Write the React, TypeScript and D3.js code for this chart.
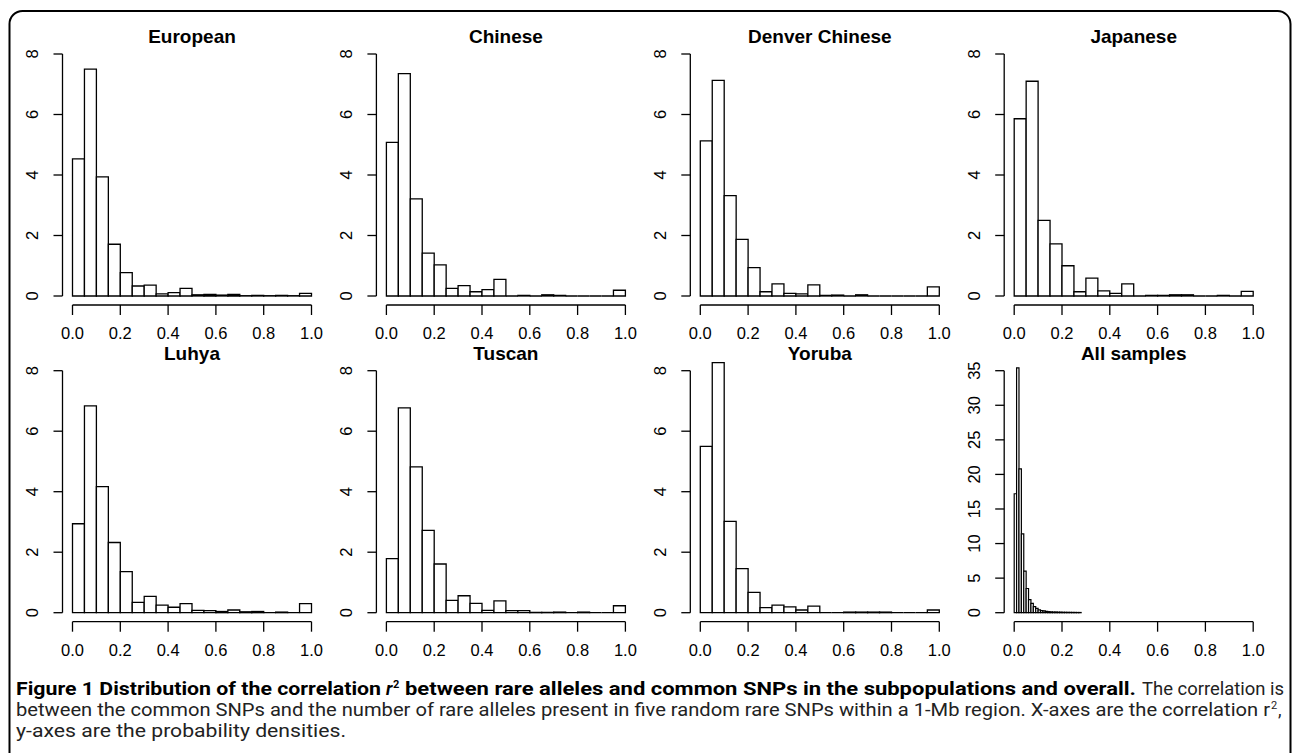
import React from "react";
import * as d3 from "d3";

const panelTitles = [
  "European",
  "Chinese",
  "Denver Chinese",
  "Japanese",
  "Luhya",
  "Tuscan",
  "Yoruba",
  "All samples",
];

// densities per bin of width 0.05 (subpopulations)
const european = [4.53, 7.5, 3.94, 1.71, 0.77, 0.33, 0.36, 0.07, 0.11, 0.25, 0.04, 0.05, 0.03, 0.05, 0.01, 0.02, 0.01, 0.02, 0.01, 0.09];
const chinese = [5.08, 7.35, 3.21, 1.42, 1.03, 0.25, 0.34, 0.14, 0.21, 0.55, 0, 0.02, 0, 0.04, 0.02, 0, 0, 0, 0, 0.19];
const denverChinese = [5.13, 7.13, 3.32, 1.87, 0.94, 0.14, 0.4, 0.09, 0.07, 0.37, 0.02, 0.03, 0, 0.04, 0, 0, 0, 0, 0, 0.3];
const japanese = [5.86, 7.1, 2.5, 1.72, 1.0, 0.14, 0.59, 0.17, 0.09, 0.4, 0, 0.02, 0.02, 0.04, 0.04, 0, 0, 0.02, 0, 0.15];
const luhya = [2.94, 6.84, 4.17, 2.32, 1.36, 0.34, 0.54, 0.25, 0.18, 0.3, 0.08, 0.07, 0.04, 0.09, 0.03, 0.04, 0, 0.02, 0, 0.3];
const tuscan = [1.79, 6.77, 4.82, 2.72, 1.61, 0.41, 0.56, 0.31, 0.08, 0.39, 0.07, 0.07, 0.01, 0.01, 0.02, 0, 0.02, 0, 0, 0.23];
const yoruba = [5.5, 8.27, 3.02, 1.46, 0.67, 0.17, 0.25, 0.19, 0.09, 0.22, 0, 0, 0.02, 0.02, 0.02, 0.02, 0, 0, 0, 0.09];
// densities per bin of width 0.01 (all samples)
const allSamples = [17.2, 35.4, 20.8, 11.4, 6.0, 3.5, 1.9, 1.35, 0.87, 0.63, 0.4, 0.3, 0.25, 0.2, 0.15, 0.12, 0.1, 0.1, 0.08, 0.08, 0.06, 0.06, 0.05, 0.05, 0.04, 0.04, 0.03, 0.03];

const binWidths = [0.05, 0.05, 0.05, 0.05, 0.05, 0.05, 0.05, 0.01];
const panelData = [european, chinese, denverChinese, japanese, luhya, tuscan, yoruba, allSamples];
const xTicks = [0, 0.2, 0.4, 0.6, 0.8, 1.0];
const yTicksSub = [0, 2, 4, 6, 8];
const yTicksAll = [0, 5, 10, 15, 20, 25, 30, 35];

const FONT = "'Liberation Sans', Arial, Helvetica, sans-serif";
const CAP = "'Liberation Sans Narrow', 'Roboto', 'Open Sans', sans-serif";

function Panel({ idx }: { idx: number }) {
  const col = idx % 4;
  const row = Math.floor(idx / 4);
  const x0 = 72.5 + col * 313.9;
  const y0 = 296 + row * 316.7;
  const plotW = 239;
  const plotH = 242;
  const data = panelData[idx];
  const bw = binWidths[idx];
  const yTicks = idx === 7 ? yTicksAll : yTicksSub;
  const yMax = yTicks[yTicks.length - 1];
  const xs = d3.scaleLinear().domain([0, 1]).range([x0, x0 + plotW]);
  const ys = d3.scaleLinear().domain([0, yMax]).range([y0, y0 - plotH]);
  const axX = x0 - 10;
  const axY = y0 + 9;
  const fmt = d3.format(".1f");
  return (
    <g>
      <text
        x={xs(0.5)}
        y={y0 - 253}
        textAnchor="middle"
        fontFamily={FONT}
        fontWeight="bold"
        fontSize={19}
      >
        {panelTitles[idx]}
      </text>
      {data.map((v, i) => {
        const a = xs(i * bw);
        const b = xs((i + 1) * bw);
        const t = ys(v);
        return (
          <path
            key={i}
            d={`M${a},${y0}V${t}H${b}V${y0}Z`}
            fill="#fff"
            stroke="#000"
            strokeWidth={idx === 7 ? 1.2 : 1.3}
          />
        );
      })}
      {/* x axis */}
      <path d={`M${xs(0)},${axY}H${xs(1)}`} stroke="#000" strokeWidth={1.3} fill="none" />
      {xTicks.map((t) => (
        <g key={t}>
          <path d={`M${xs(t)},${axY}V${axY + 10}`} stroke="#000" strokeWidth={1.3} />
          <text
            x={xs(t)}
            y={axY + 34}
            textAnchor="middle"
            fontFamily={FONT}
            fontSize={16.5}
          >
            {fmt(t)}
          </text>
        </g>
      ))}
      {/* y axis */}
      <path d={`M${axX},${ys(0)}V${ys(yMax)}`} stroke="#000" strokeWidth={1.3} fill="none" />
      {yTicks.map((t) => (
        <g key={t}>
          <path d={`M${axX},${ys(t)}H${axX - 9}`} stroke="#000" strokeWidth={1.3} />
          <text
            transform={`translate(${axX - 24.5},${ys(t)}) rotate(-90)`}
            textAnchor="middle"
            fontFamily={FONT}
            fontSize={16.5}
          >
            {String(t)}
          </text>
        </g>
      ))}
    </g>
  );
}

export default function App() {
  const W = 1292;
  const H = 753;
  const l1 = 695;
  const l2 = 716;
  const l3 = 737;
  return (
    <svg
      width={W}
      height={H}
      viewBox={`0 0 ${W} ${H}`}
      style={{ position: "absolute", left: 0, top: 0, background: "#fff" }}
    >
      <rect x={0} y={0} width={W} height={H} fill="#fff" />
      <path
        d={`M9.5,770V24A13,13 0 0 1 22.5,11H1277A13,13 0 0 1 1290.5,24V770`}
        fill="none"
        stroke="#000"
        strokeWidth={2}
      />
      {panelTitles.map((_, i) => (
        <Panel key={i} idx={i} />
      ))}
      <g fontFamily={CAP} fontSize={18} fill="#000">
        <text x={16} y={l1} fontWeight="bold" textLength={365} lengthAdjust="spacingAndGlyphs">
          Figure 1 Distribution of the correlation
        </text>
        <text x={386} y={l1} fontWeight="bold" fontStyle="italic">r</text>
        <text x={393} y={l1 - 7} fontWeight="bold" fontSize={11}>2</text>
        <text x={405} y={l1} fontWeight="bold" textLength={731} lengthAdjust="spacingAndGlyphs">
          between rare alleles and common SNPs in the subpopulations and overall.
        </text>
        <text x={1142} y={l1} fill="#222" textLength={142} lengthAdjust="spacingAndGlyphs">
          The correlation is
        </text>
        <text x={16} y={l2} fill="#222" textLength={1254} lengthAdjust="spacingAndGlyphs">
          between the common SNPs and the number of rare alleles present in five random rare SNPs within a 1-Mb region. X-axes are the correlation r
        </text>
        <text x={1271} y={l2 - 7} fill="#222" fontSize={11}>2</text>
        <text x={1278} y={l2} fill="#222">,</text>
        <text x={16} y={l3} fill="#222" textLength={330} lengthAdjust="spacingAndGlyphs">
          y-axes are the probability densities.
        </text>
      </g>
    </svg>
  );
}
